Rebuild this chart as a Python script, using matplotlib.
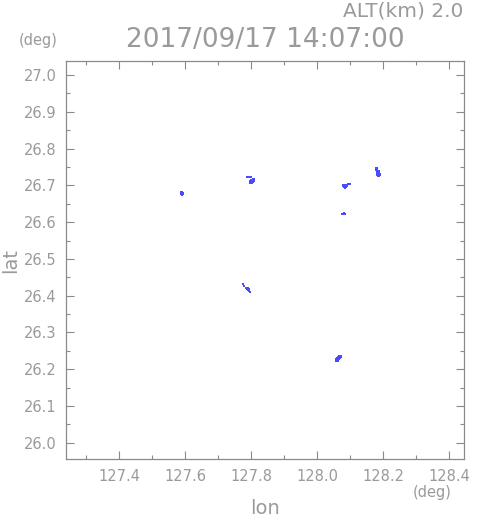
import matplotlib
matplotlib.use("Agg")
from matplotlib import pyplot as plt
from matplotlib.ticker import MultipleLocator

# Echo cells (lon, lat)
lon_a = [127.588, 127.591, 127.588, 127.591, 127.594, 127.588, 127.591, 127.594, 127.591]
lat_a = [26.682, 26.682, 26.679, 26.679, 26.679, 26.676, 26.676, 26.676, 26.673]

lon_b = [127.788, 127.791, 127.794, 127.800,
         127.806, 127.809, 127.800, 127.803, 127.806, 127.809,
         127.797, 127.800, 127.803, 127.806, 127.809,
         127.797, 127.800, 127.803, 127.806, 127.797, 127.800, 127.803]
lat_b = [26.723, 26.723, 26.723, 26.723,
         26.717, 26.717, 26.714, 26.714, 26.714, 26.714,
         26.712, 26.712, 26.712, 26.712, 26.712,
         26.709, 26.709, 26.709, 26.709, 26.706, 26.706, 26.706]

lon_c = [128.094, 128.097, 128.100,
         128.079, 128.082, 128.085, 128.088, 128.091,
         128.079, 128.082, 128.085, 128.088, 128.091,
         128.082, 128.085, 128.088, 128.085]
lat_c = [26.704, 26.704, 26.704,
         26.701, 26.701, 26.701, 26.701, 26.701,
         26.698, 26.698, 26.698, 26.698, 26.698,
         26.695, 26.695, 26.695, 26.693]

lon_d = [128.179, 128.182, 128.179, 128.182, 128.182, 128.185, 128.188,
         128.182, 128.185, 128.188, 128.182, 128.185, 128.188, 128.191,
         128.182, 128.185, 128.188, 128.191, 128.185, 128.188]
lat_d = [26.747, 26.747, 26.742, 26.742, 26.739, 26.739, 26.739,
         26.736, 26.736, 26.736, 26.731, 26.731, 26.731, 26.731,
         26.728, 26.728, 26.728, 26.728, 26.725, 26.725]

lon_e = [128.082, 128.076, 128.079, 128.082, 128.085]
lat_e = [26.625, 26.622, 26.622, 26.622, 26.622]

lon_f = [127.776, 127.779, 127.785, 127.788, 127.791, 127.788, 127.791, 127.794, 127.791, 127.794, 127.797]
lat_f = [26.432, 26.426, 26.421, 26.421, 26.421, 26.418, 26.418, 26.418, 26.415, 26.412, 26.410]

lon_g = [128.067, 128.070, 128.073, 128.064, 128.067, 128.070, 128.073,
         128.061, 128.064, 128.067, 128.070, 128.058, 128.061, 128.064, 128.067,
         128.058, 128.061, 128.064]
lat_g = [26.236, 26.236, 26.236, 26.233, 26.233, 26.233, 26.233,
         26.230, 26.230, 26.230, 26.230, 26.227, 26.227, 26.227, 26.227,
         26.222, 26.222, 26.222]

x_ticks = [127.4, 127.6, 127.8, 128.0, 128.2, 128.4]
y_ticks = [26.0, 26.1, 26.2, 26.3, 26.4, 26.5, 26.6, 26.7, 26.8, 26.9, 27.0]

title = "2017/09/17 14:07:00"
alt_text = "ALT(km) 2.0"

gray = "#8a8a8a"
text_gray = "#9a9a9a"
blue = "#4a4aff"

plt.rcParams['font.family'] = ['DejaVu Sans']

fig = plt.figure(figsize=(4.91, 5.21), dpi=100)
ax = fig.add_axes([0.1354, 0.119, 0.8096, 0.7639])

for lo, la in [(lon_a, lat_a), (lon_b, lat_b), (lon_c, lat_c), (lon_d, lat_d),
               (lon_e, lat_e), (lon_f, lat_f), (lon_g, lat_g)]:
    ax.scatter(lo, la, s=2.0, marker='s', color=blue, linewidths=0)

ax.set_xlim(127.241, 128.445)
ax.set_ylim(25.956, 27.038)
ax.set_xticks(x_ticks)
ax.set_xticklabels(["%.1f" % v for v in x_ticks])
ax.set_yticks(y_ticks)
ax.set_yticklabels(["%.1f" % v for v in y_ticks])
ax.xaxis.set_minor_locator(MultipleLocator(0.1))
ax.yaxis.set_minor_locator(MultipleLocator(0.05))

ax.tick_params(which='both', direction='in', top=True, right=True, color=gray,
               labelcolor=text_gray, labelsize=10.5, width=0.8)
ax.tick_params(which='major', length=6, pad=7)
ax.tick_params(which='minor', length=3)
for sp in ax.spines.values():
    sp.set_color(gray)
    sp.set_linewidth(0.9)

fig.text(0.943, 0.979, alt_text, ha='right', va='center', color=text_gray, fontsize=14.5)
fig.text(0.541, 0.923, title, ha='center', va='center', color=text_gray, fontsize=19)
fig.text(0.077, 0.923, "(deg)", ha='center', va='center', color=text_gray, fontsize=10.5)
fig.text(0.881, 0.055, "(deg)", ha='center', va='center', color=text_gray, fontsize=10.5)
fig.text(0.54, 0.024, "lon", ha='center', va='center', color=text_gray, fontsize=14)
fig.text(0.022, 0.50, "lat", ha='center', va='center', rotation=90, color=text_gray, fontsize=14)

fig.savefig("out.png", dpi=100)
